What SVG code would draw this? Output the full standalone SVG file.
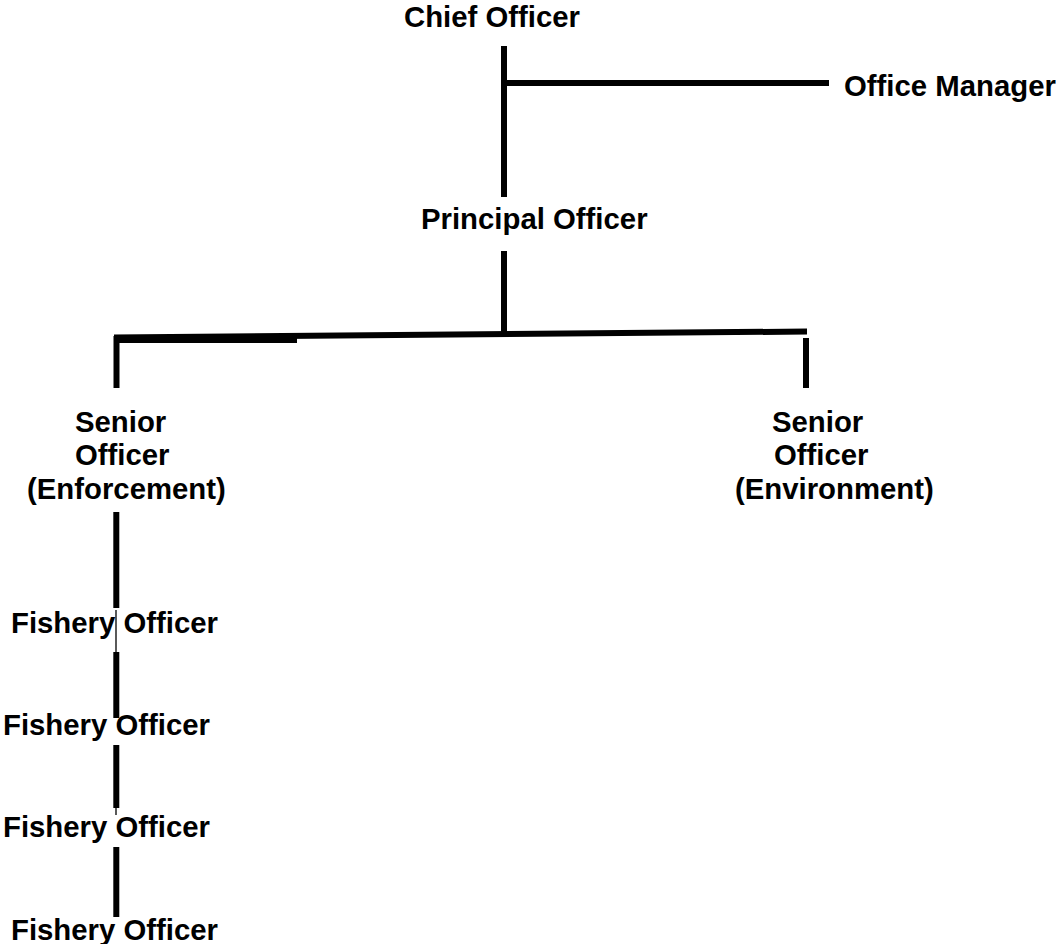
<svg xmlns="http://www.w3.org/2000/svg" width="1056" height="944" viewBox="0 0 1056 944">
<style>
  text { font-family: "Liberation Sans", Arial, sans-serif; font-weight: bold; font-size: 29.33px; fill: #000; }
  .thick { stroke: #000; stroke-width: 6; fill: none; }
  .thin { stroke: #000; stroke-width: 1.3; fill: none; }
</style>
<rect width="1056" height="944" fill="#fff"/>
<g id="connectors">
  <line class="thick" x1="504" y1="46" x2="504" y2="197"/>
  <line class="thick" x1="504" y1="83" x2="829" y2="83"/>
  <line class="thick" x1="504" y1="251" x2="504" y2="333"/>
  <line class="thick" x1="114" y1="337.5" x2="807" y2="331.5"/>
  <line class="thick" x1="118" y1="340" x2="297" y2="340"/>
  <line class="thick" x1="116.5" y1="336" x2="116.5" y2="388"/>
  <line class="thick" x1="806" y1="338" x2="806" y2="388"/>
  <line class="thick" x1="116.3" y1="512" x2="116.3" y2="608"/>
  <line class="thin" x1="116" y1="610" x2="116" y2="652"/>
  <line class="thick" x1="116.3" y1="652" x2="116.3" y2="718"/>
  <line class="thick" x1="116.3" y1="745" x2="116.3" y2="808"/>
  <line class="thin" x1="116" y1="808" x2="116" y2="815"/>
  <line class="thick" x1="116.3" y1="847" x2="116.3" y2="917"/>
</g>
<g id="chief-officer"><text x="404" y="26.5">Chief Officer</text></g>
<g id="office-manager"><text x="844" y="95.5">Office Manager</text></g>
<g id="principal-officer"><text x="421" y="229">Principal Officer</text></g>
<g id="senior-enforcement">
  <text x="75" y="432">Senior</text>
  <text x="75" y="465">Officer</text>
  <text x="27" y="498.5">(Enforcement)</text>
</g>
<g id="senior-environment">
  <text x="772" y="432">Senior</text>
  <text x="774" y="465">Officer</text>
  <text x="735" y="498.5">(Environment)</text>
</g>
<g id="fishery-1"><text x="11" y="633">Fishery Officer</text></g>
<g id="fishery-2"><text x="3" y="735">Fishery Officer</text></g>
<g id="fishery-3"><text x="3" y="837">Fishery Officer</text></g>
<g id="fishery-4"><text x="11" y="940">Fishery Officer</text></g>
</svg>
